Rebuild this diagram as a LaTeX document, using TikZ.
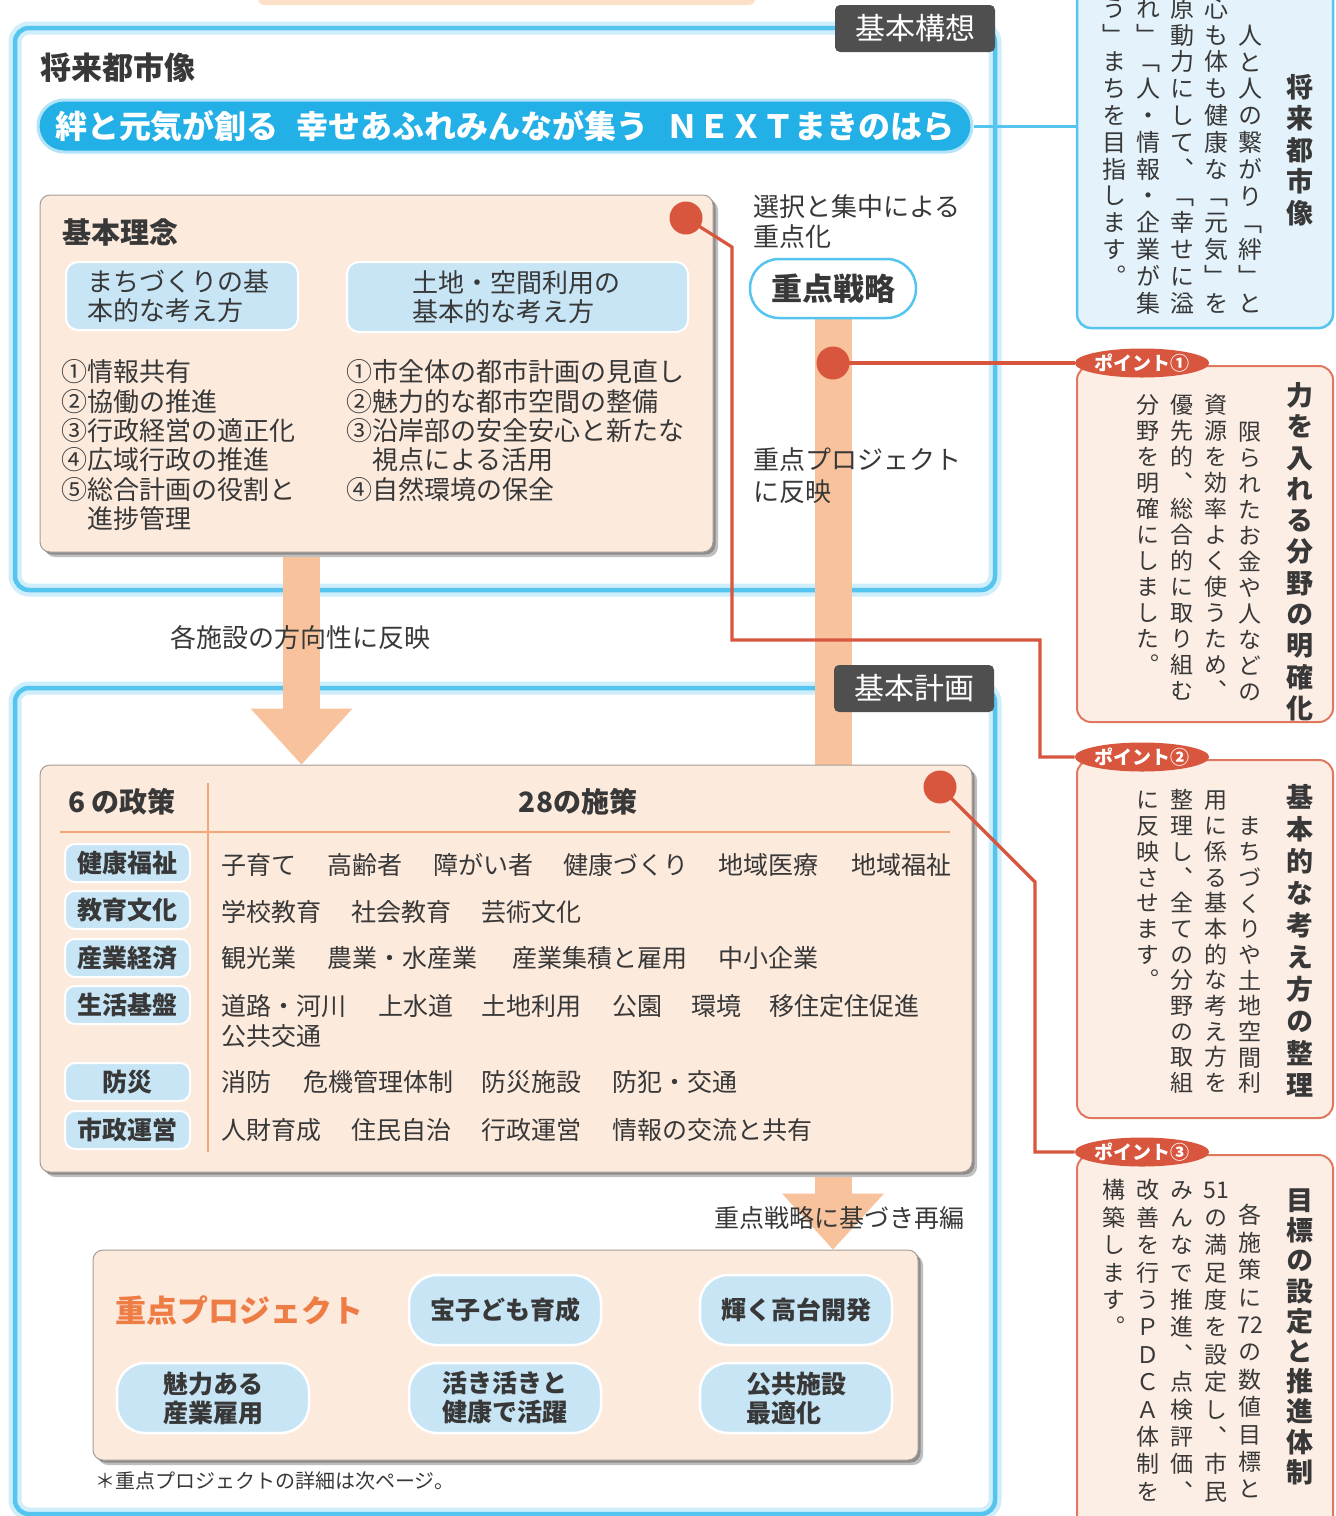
\documentclass[tikz,border=0pt]{standalone}
\usepackage{fontspec}
\setmainfont{Noto Sans CJK JP}
\newfontfamily\vjp[RawFeature=+vert]{Noto Sans CJK JP}
\usetikzlibrary{shapes.geometric,arrows.meta}
\pgfdeclarelayer{back}\pgfdeclarelayer{mid}\pgfdeclarelayer{top}
\pgfsetlayers{back,mid,main,top}
\definecolor{frameblue}{HTML}{55C4EF}
\definecolor{glowblue}{HTML}{CFEEFB}
\definecolor{pillblue}{HTML}{22B0E6}
\definecolor{lightblue}{HTML}{C7E5F5}
\definecolor{peach}{HTML}{FCEADD}
\definecolor{barorange}{HTML}{F8C39C}
\definecolor{pointred}{HTML}{D8553E}
\definecolor{tabgray}{HTML}{4F4F4F}
\definecolor{txt}{HTML}{383838}
\definecolor{projorange}{HTML}{EE7C45}
\definecolor{lineorange}{HTML}{F2A679}
\definecolor{boxgray}{HTML}{A59C96}
\definecolor{vbluefill}{HTML}{E4F3FB}
\definecolor{vpeachfill}{HTML}{FDEEE5}
\definecolor{vredborder}{HTML}{E0785F}
\definecolor{stripfill}{HTML}{FCE1C8}
\newcommand\fsz[2]{\fontsize{#1}{#2}\selectfont}
\newdimen\vtw
\def\vtstopmark{\vtend}
\long\def\vtloop#1{\def\vtarg{#1}\ifx\vtarg\vtstopmark\else\hbox to\vtw{\hss#1\hss\vrule height .88em depth .12em width 0pt}\expandafter\vtloop\fi}
\newcommand\vcol[4][]{\vbox{\fontsize{#2}{#3}\selectfont\vjp#1\vtw=1.2em\relax\baselineskip=#3\relax\lineskiplimit=-1000pt\relax\lineskip=0pt\relax\vtloop#4\vtend}}
\tikzset{
  t/.style={inner sep=0pt, text=txt},
  vt/.style={anchor=north, inner sep=0pt, text=txt},
  item/.style={t, anchor=west, font=\fsz{25}{29}},
  frameglow/.style={draw=glowblue, line width=13pt, rounded corners=14pt},
  frameline/.style={draw=frameblue, line width=4.5pt, rounded corners=14pt},
  tabbox/.style={fill=tabgray, text=white, rounded corners=5pt, minimum width=160pt, minimum height=47pt, inner sep=0pt, font=\fsz{30}{34}},
  peachbox/.style={fill=peach, draw=boxgray, line width=1pt, rounded corners=10pt, inner sep=0pt,
     preaction={fill=black!25, transform canvas={shift={(5pt,-5pt)}}},
     preaction={fill=black!45, transform canvas={shift={(2.5pt,-2.5pt)}}}},
  lbox/.style={fill=lightblue, draw=white, line width=2pt, rounded corners=12pt, inner ysep=0pt, text=txt, font=\fsz{26}{29}, align=left},
  pol/.style={fill=lightblue, draw=white, line width=2pt, rounded corners=10pt, minimum width=125pt, minimum height=38pt, inner sep=0pt, text=txt, font=\bfseries\fsz{25}{28}},
  ppill/.style={fill=lightblue, draw=white, line width=2.5pt, rounded corners=28pt, minimum width=192pt, minimum height=70pt, inner sep=0pt, text=txt, font=\bfseries\fsz{25}{29}, align=left},
  bar/.style={draw=barorange, line width=37pt, -{Triangle[width=102pt,length=56pt,line width=0pt]}},
  redline/.style={draw=pointred, line width=3.2pt},
  reddot/.style={circle, fill=pointred, minimum size=33pt, inner sep=0pt},
  ptab/.style={ellipse, fill=pointred, text=white, font=\bfseries\fsz{19}{22}, inner sep=0pt, minimum height=29pt},
  vbx/.style={draw=frameblue, line width=2.5pt, fill=vbluefill, rounded corners=14pt, inner sep=0pt, minimum width=256pt},
  pbx/.style={draw=vredborder, line width=2pt, fill=vpeachfill, rounded corners=14pt, inner sep=0pt, minimum width=256pt},
}
\begin{document}
\begin{tikzpicture}[x=1pt,y=-1pt]
\useasboundingbox (0,0) rectangle (1336,1516);
\clip (0,0) rectangle (1336,1516);
\begin{pgfonlayer}{back}
\fill[white] (0,0) rectangle (1336,1516);
\fill[stripfill, rounded corners=6pt] (258,-40) rectangle (755,5);
\draw[frameglow] (15,28) rectangle (995,590);
\draw[frameline] (15,28) rectangle (995,590);
\draw[frameglow] (15,688) rectangle (995,1514);
\draw[frameline] (15,688) rectangle (995,1514);
\end{pgfonlayer}

% ---------- 基本構想 ----------
\node[tabbox] (kousou) at (915,28.5) {基本構想};
\node[t, anchor=west, font=\bfseries\fsz{31}{34}] (shoraiT) at (40,68) {将来都市像};
\node[fill=pillblue, text=white, rounded corners=26pt, minimum width=934pt, minimum height=52pt, inner sep=0pt, font=\bfseries\fsz{32}{34}, draw=pillblue!35, line width=3pt] (vision) at (505,126) {絆と元気が創る\hspace{18pt}幸せあふれみんなが集う\hspace{18pt}ＮＥＸＴまきのはら};

\node[peachbox, minimum width=673pt, minimum height=357pt] (rinen) at (376.5,373.5) {};
\node[t, anchor=west, font=\bfseries\fsz{29}{32}] (rinenT) at (62,232) {基本理念};
\node[lbox, text width=190pt, inner xsep=21pt, minimum height=68pt] (lb1) at (182,296) {まちづくりの基\\本的な考え方};
\node[lbox, text width=210pt, inner xsep=65.5pt, minimum height=70pt] (lb2) at (517.5,297) {土地・空間利用の\\基本的な考え方};
\node[t, anchor=north west, align=left, font=\fsz{26}{29.4}] (listL) at (61,359.5) {①情報共有\\②協働の推進\\③行政経営の適正化\\④広域行政の推進\\⑤総合計画の役割と\\\hspace*{1em}進捗管理};
\node[t, anchor=north west, align=left, font=\fsz{26}{29.4}] (listR) at (346,359.5) {①市全体の都市計画の見直し\\②魅力的な都市空間の整備\\③沿岸部の安全安心と新たな\\\hspace*{1em}視点による活用\\④自然環境の保全};

\node[fill=white, draw=frameblue, line width=2.5pt, rounded corners=29pt, minimum width=166pt, minimum height=59pt, inner sep=0pt, text=txt, font=\bfseries\fsz{31}{34}] (senryaku) at (833,288.5) {重点戦略};
\node[t, anchor=north west, align=left, font=\fsz{26}{30}] (senT) at (753,194) {選択と集中による\\重点化};

% ---------- 基本計画 ----------
\node[peachbox, minimum width=932pt, minimum height=407pt] (sesaku) at (506,968.5) {};
\node[peachbox, minimum width=825pt, minimum height=210pt] (proj) at (505.5,1355) {};

\coordinate (ax) at (301.5,0);
\begin{pgfonlayer}{mid}
\draw[bar] (rinen.south -| ax) -- (sesaku.north -| ax);
\draw[bar] (senryaku.south) -- (senryaku.south |- proj.north);
\end{pgfonlayer}

\node[tabbox] (keikaku) at (914,688.5) {基本計画};
\node[t, anchor=west, font=\fsz{26}{30}] (hoko) at (170,638) {各施設の方向性に反映};
\node[t, anchor=north west, align=left, font=\fsz{26}{32}] (hanei) at (753,447) {重点プロジェクト\\に反映};
\node[t, anchor=east, font=\fsz{25}{29}] (saihen) at (965,1218) {重点戦略に基づき再編};

\node[t, anchor=west, font=\bfseries\fsz{28}{32}] (seisakuT) at (68,802) {6 の政策};
\node[t, font=\bfseries\fsz{28}{32}] (shisakuT) at (578,802) {28の施策};
\draw[lineorange, line width=2.5pt] (60,832) -- (950,832);
\draw[lineorange, line width=1.5pt] (208,783) -- (208,1152);
\foreach \tx/\yy [count=\i] in {健康福祉/863,教育文化/910,産業経済/958,生活基盤/1005,防災/1082,市政運営/1130}
  \node[pol] (pol\i) at (127.5,\yy) {\tx};
\foreach \tx/\xx [count=\i] in {子育て/221,高齢者/327,障がい者/433,健康づくり/563,地域医療/718,地域福祉/851}
  \node[item] (ra\i) at (\xx,865) {\tx};
\foreach \tx/\xx [count=\i] in {学校教育/221,社会教育/351,芸術文化/481}
  \node[item] (rb\i) at (\xx,912) {\tx};
\foreach \tx/\xx [count=\i] in {観光業/221,農業・水産業/327,産業集積と雇用/512,中小企業/718}
  \node[item] (rc\i) at (\xx,958) {\tx};
\foreach \tx/\xx [count=\i] in {道路・河川/221,上水道/378,土地利用/481,公園/612,環境/691,移住定住促進/769}
  \node[item] (rd\i) at (\xx,1006) {\tx};
\node[item] (rd7) at (221,1036) {公共交通};
\foreach \tx/\xx [count=\i] in {消防/221,危機管理体制/303,防災施設/481,防犯・交通/612}
  \node[item] (re\i) at (\xx,1082) {\tx};
\foreach \tx/\xx [count=\i] in {人財育成/221,住民自治/351,行政運営/481,情報の交流と共有/612}
  \node[item] (rf\i) at (\xx,1130) {\tx};

\node[t, anchor=west, text=projorange, font=\bfseries\fsz{31}{34}] (projT) at (115,1310) {重点プロジェクト};
\node[ppill] (p1) at (505,1310) {宝子ども育成};
\node[ppill] (p2) at (796,1310) {輝く高台開発};
\node[ppill] (p3) at (213,1398) {魅力ある\\産業雇用};
\node[ppill] (p4) at (505,1398) {活き活きと\\健康で活躍};
\node[ppill] (p5) at (796,1398) {公共施設\\最適化};
\node[t, anchor=west, font=\fsz{20}{24}] (note) at (95,1481) {＊重点プロジェクトの詳細は次ページ。};

% ---------- right column ----------
\node[vbx, minimum height=358pt] (visbox) at (1205,149) {};
\node[pbx, minimum height=356pt] (pt1box) at (1205,544) {};
\node[pbx, minimum height=358pt] (pt2box) at (1205,939) {};
\node[pbx, minimum height=380pt] (pt3box) at (1205,1345) {};
\draw[draw=frameblue, line width=3pt] (vision.east) -- (vision.east -| visbox.west);

\node[vt] (v0) at (1300,73.5) {\vcol[\bfseries]{27}{31.5pt}{将来都市像}};
\node[vt] (v1) at (1250,23) {\vcol{24}{26.8pt}{人と人の繋がり「絆」と}};
\node[vt] (v2) at (1216,-4) {\vcol{24}{26.8pt}{心も体も健康な「元気」を}};
\node[vt] (v3) at (1182,-4) {\vcol{24}{26.8pt}{原動力にして、「幸せに溢}};
\node[vt] (v4) at (1148,-4) {\vcol{24}{26.8pt}{れ」「人・情報・企業が集}};
\node[vt] (v5) at (1114,-4) {\vcol{24}{26.8pt}{う」まちを目指します。}};

\node[vt] (a0) at (1300,381.5) {\vcol[\bfseries]{27}{31.3pt}{力を入れる分野の明確化}};
\node[vt] (a1) at (1250,420.5) {\vcol{23}{26pt}{限られたお金や人などの}};
\node[vt] (a2) at (1216,393.5) {\vcol{23}{26pt}{資源を効率よく使うため、}};
\node[vt] (a3) at (1182,393.5) {\vcol{23}{26pt}{優先的、総合的に取り組む}};
\node[vt] (a4) at (1148,393.5) {\vcol{23}{26pt}{分野を明確にしました。}};

\node[vt] (b0) at (1300,783.5) {\vcol[\bfseries]{27}{32pt}{基本的な考え方の整理}};
\node[vt] (b1) at (1250,814.5) {\vcol{23}{25.7pt}{まちづくりや土地空間利}};
\node[vt] (b2) at (1216,788.5) {\vcol{23}{25.7pt}{用に係る基本的な考え方を}};
\node[vt] (b3) at (1182,788.5) {\vcol{23}{25.7pt}{整理し、全ての分野の取組}};
\node[vt] (b4) at (1148,788.5) {\vcol{23}{25.7pt}{に反映させます。}};

\node[vt] (c0) at (1300,1186.5) {\vcol[\bfseries]{27}{30.2pt}{目標の設定と推進体制}};
\node[vt] (c1) at (1250,1203.5) {\vcol{23}{27.4pt}{各施策に{72}の数値目標と}};
\node[vt] (c2) at (1216,1178.5) {\vcol{23}{27.4pt}{{51}の満足度を設定し、市民}};
\node[vt] (c3) at (1182,1178.5) {\vcol{23}{27.4pt}{みんなで推進、点検評価、}};
\node[vt] (c4) at (1148,1178.5) {\vcol{23}{27.4pt}{改善を行うＰＤＣＡ体制を}};
\node[vt] (c5) at (1114,1178.5) {\vcol{23}{27.4pt}{構築します。}};

% ---------- points ----------
\begin{pgfonlayer}{top}
\node[reddot] (d1) at (686,218) {};
\node[reddot] (d2) at (833,363) {};
\node[reddot] (d3) at (940,787) {};
\node[ptab] (pt1tab) at (1142,363) {ポイント①};
\node[ptab] (pt2tab) at (1142,757) {ポイント②};
\node[ptab] (pt3tab) at (1142,1152) {ポイント③};
\end{pgfonlayer}
\draw[redline] (d1.center) -- (732,247) -- (732,640) -- (1040,640) -- (1040,757) -- (pt2tab.west);
\draw[redline] (d2.center) -- (pt1tab.west);
\draw[redline] (d3.center) -- (1035,882) -- (1035,1152) -- (pt3tab.west);
\end{tikzpicture}
\end{document}
